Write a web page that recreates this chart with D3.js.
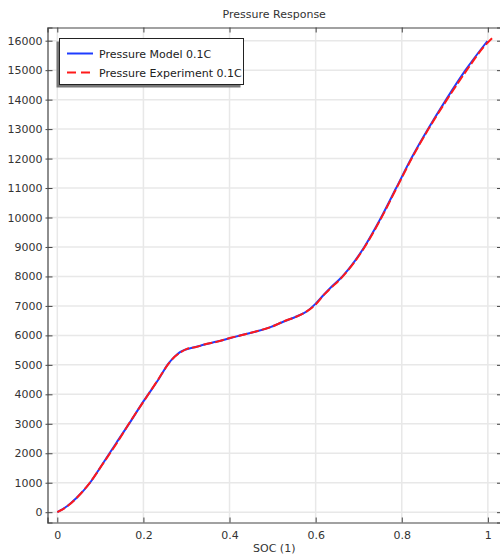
<!DOCTYPE html>
<html>
<head>
<meta charset="utf-8">
<script src="https://cdn.jsdelivr.net/npm/d3@7"></script>
<style>
  html, body { margin: 0; padding: 0; background: #fff; }
  svg { display: block; font-family: "DejaVu Sans", sans-serif; }
</style>
</head>
<body>
<svg id="chart" width="500" height="558"></svg>
<script>
// State of charge (1) and pressure for the model curve
const modelSoc = [0, 0.0225, 0.045, 0.076, 0.107, 0.137, 0.168, 0.2, 0.236, 0.258, 0.272, 0.285, 0.3, 0.325,
  0.34, 0.371, 0.402, 0.433, 0.464, 0.495, 0.526, 0.557, 0.58, 0.599, 0.619, 0.634, 0.662,
  0.713, 0.752, 0.787, 0.822, 0.861, 0.903, 0.948, 0.999];
const modelPressure = [0, 200, 490, 1000, 1680, 2350, 3030, 3760, 4530, 5040, 5270, 5430, 5530, 5620,
  5680, 5790, 5910, 6030, 6140, 6280, 6470, 6650, 6820, 7060, 7380, 7610, 8000,
  9000, 10000, 11000, 12000, 13000, 14000, 15000, 15990];

// Measured pressure at 0.1C
const expSoc = [0, 0.022, 0.046, 0.075, 0.108, 0.138, 0.167, 0.201, 0.235, 0.259, 0.273, 0.286, 0.301, 0.324,
  0.341, 0.37, 0.403, 0.432, 0.465, 0.494, 0.527, 0.556, 0.581, 0.6, 0.62, 0.635, 0.663,
  0.714, 0.753, 0.788, 0.823, 0.862, 0.905, 0.951, 0.99, 1.011];
const expPressure = [0, 190, 500, 990, 1690, 2340, 3020, 3770, 4520, 5050, 5280, 5420, 5540, 5610,
  5690, 5780, 5920, 6020, 6150, 6270, 6480, 6640, 6830, 7050, 7390, 7600, 8000,
  9000, 10000, 11000, 12000, 13000, 14000, 15000, 15780, 16100];

const xTicks = [0, 0.2, 0.4, 0.6, 0.8, 1];
const yTicks = d3.range(0, 16001, 1000);

const titleText = "Pressure Response";
const xLabel = "SOC (1)";
const legendLabels = ["Pressure Model 0.1C", "Pressure Experiment 0.1C"];

const svg = d3.select("#chart");
const plot = { left: 47.5, right: 501, top: 27.5, bottom: 522.5 };

const x = d3.scaleLinear().domain([-0.02277, 1.0305]).range([plot.left, plot.right]);
const y = d3.scaleLinear().domain([-349.5, 16448]).range([plot.bottom, plot.top]);

// grid
const grid = svg.append("g");
grid.selectAll("line.gx").data(xTicks).enter().append("line")
  .attr("x1", d => x(d)).attr("x2", d => x(d))
  .attr("y1", plot.top).attr("y2", plot.bottom)
  .attr("stroke", "#e8e8e8").attr("stroke-width", 1.5);
grid.selectAll("line.gy").data(yTicks).enter().append("line")
  .attr("y1", d => y(d)).attr("y2", d => y(d))
  .attr("x1", plot.left).attr("x2", plot.right)
  .attr("stroke", "#e8e8e8").attr("stroke-width", 1.5);

// curves
const line = d3.line().curve(d3.curveMonotoneX);
svg.append("path")
  .attr("d", line(modelSoc.map((s, i) => [x(s), y(modelPressure[i])])))
  .attr("fill", "none").attr("stroke", "#1e3cff").attr("stroke-width", 2);
svg.append("path")
  .attr("d", line(expSoc.map((s, i) => [x(s), y(expPressure[i])])))
  .attr("fill", "none").attr("stroke", "#ff1a1a").attr("stroke-width", 2)
  .attr("stroke-dasharray", "9,3");

// axes
const axisColor = "#444";
const bottomAxis = d3.axisBottom(x).tickValues(xTicks).tickSize(-5).tickPadding(9)
  .tickFormat(d => d3.format("~g")(d));
const gb = svg.append("g").attr("transform", `translate(0,${plot.bottom})`).call(bottomAxis);
const topAxis = d3.axisTop(x).tickValues(xTicks).tickSize(-5).tickFormat("");
const gt = svg.append("g").attr("transform", `translate(0,${plot.top})`).call(topAxis);
const leftAxis = d3.axisLeft(y).tickValues(yTicks).tickSize(-5).tickPadding(5)
  .tickFormat(d3.format("d"));
const gl = svg.append("g").attr("transform", `translate(${plot.left},0)`).call(leftAxis);
const rightAxis = d3.axisRight(y).tickValues(yTicks).tickSize(-4).tickFormat("");
const gr = svg.append("g").attr("transform", `translate(${plot.right},0)`).call(rightAxis);

[gb, gt, gl, gr].forEach(g => {
  g.select(".domain").attr("stroke", axisColor).attr("stroke-width", 1.2);
  g.selectAll(".tick line").attr("stroke", axisColor).attr("stroke-width", 1);
  g.selectAll(".tick text").attr("fill", "#333").attr("font-size", 11)
    .attr("font-family", "DejaVu Sans, sans-serif");
});
// small outward stubs on the left ticks
gl.selectAll(".tick").append("line").attr("x1", -2).attr("x2", 0)
  .attr("stroke", axisColor).attr("stroke-width", 1);
gl.selectAll(".tick text").attr("x", -5);

// title and axis label
svg.append("text").attr("x", (plot.left + plot.right) / 2).attr("y", 18)
  .attr("text-anchor", "middle").attr("font-size", 11).attr("fill", "#333").text(titleText);
svg.append("text").attr("x", (plot.left + plot.right) / 2).attr("y", 552)
  .attr("text-anchor", "middle").attr("font-size", 11).attr("fill", "#333").text(xLabel);

// legend
const lg = svg.append("g");
const lb = { x: 59.5, y: 38.5, w: 184, h: 46 };
lg.append("rect").attr("x", lb.x - 3).attr("y", lb.y + 3).attr("width", lb.w).attr("height", lb.h)
  .attr("fill", "#777");
lg.append("rect").attr("x", lb.x).attr("y", lb.y).attr("width", lb.w).attr("height", lb.h)
  .attr("fill", "#fff").attr("stroke", "#222").attr("stroke-width", 1);
const legendStyles = [
  { color: "#1e3cff", dash: null },
  { color: "#ff1a1a", dash: "9,5" }
];
legendLabels.forEach((lab, i) => {
  const ly = 53.5 + i * 19;
  lg.append("line").attr("x1", 67).attr("x2", 93).attr("y1", ly).attr("y2", ly)
    .attr("stroke", legendStyles[i].color).attr("stroke-width", 2)
    .attr("stroke-dasharray", legendStyles[i].dash);
  lg.append("text").attr("x", 99).attr("y", ly + 4).attr("font-size", 11)
    .attr("fill", "#222").text(lab);
});
</script>
</body>
</html>
